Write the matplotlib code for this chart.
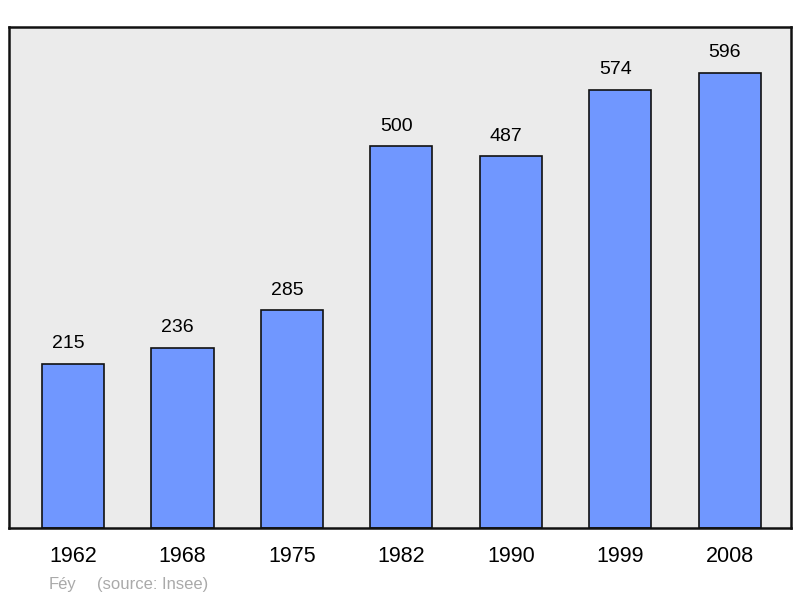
import matplotlib.pyplot as plt

plt.rcParams['font.family'] = ['Liberation Sans', 'DejaVu Sans']

# Données
years = ['1962', '1968', '1975', '1982', '1990', '1999', '2008']
population = [215, 236, 285, 500, 487, 574, 596]
commune = 'Féy'
source = '(source: Insee)'

fig = plt.figure(figsize=(8, 5.98), dpi=100)
ax = fig.add_axes([9 / 800, 70 / 598, 782 / 800, 501 / 598])
ax.set_facecolor('#ebebeb')

x = range(len(years))
bars = ax.bar(x, population, width=0.567, color='#7097ff',
              edgecolor='#111111', linewidth=1.2, zorder=2)

# étiquettes légèrement décalées à gauche comme dans l'original
for xi, v in zip(x, population):
    ax.text(xi - 0.045, v + 15, str(v), ha='center', va='bottom', fontsize=14)

ax.set_xlim(-0.585, 6.56)
ax.set_ylim(0, 656)
ax.set_yticks([])
ax.set_xticks(list(x))
ax.set_xticklabels(years, fontsize=15.5)
ax.tick_params(axis='x', length=0, pad=13)

for s in ax.spines.values():
    s.set_linewidth(1.8)
    s.set_color('#111111')

fig.text(49 / 800, 1 - 584 / 598, commune, color='#aaaaaa', fontsize=12,
         va='center', ha='left')
fig.text(97 / 800, 1 - 584 / 598, source, color='#aaaaaa', fontsize=12,
         va='center', ha='left')

fig.savefig('out.png', dpi=100)
